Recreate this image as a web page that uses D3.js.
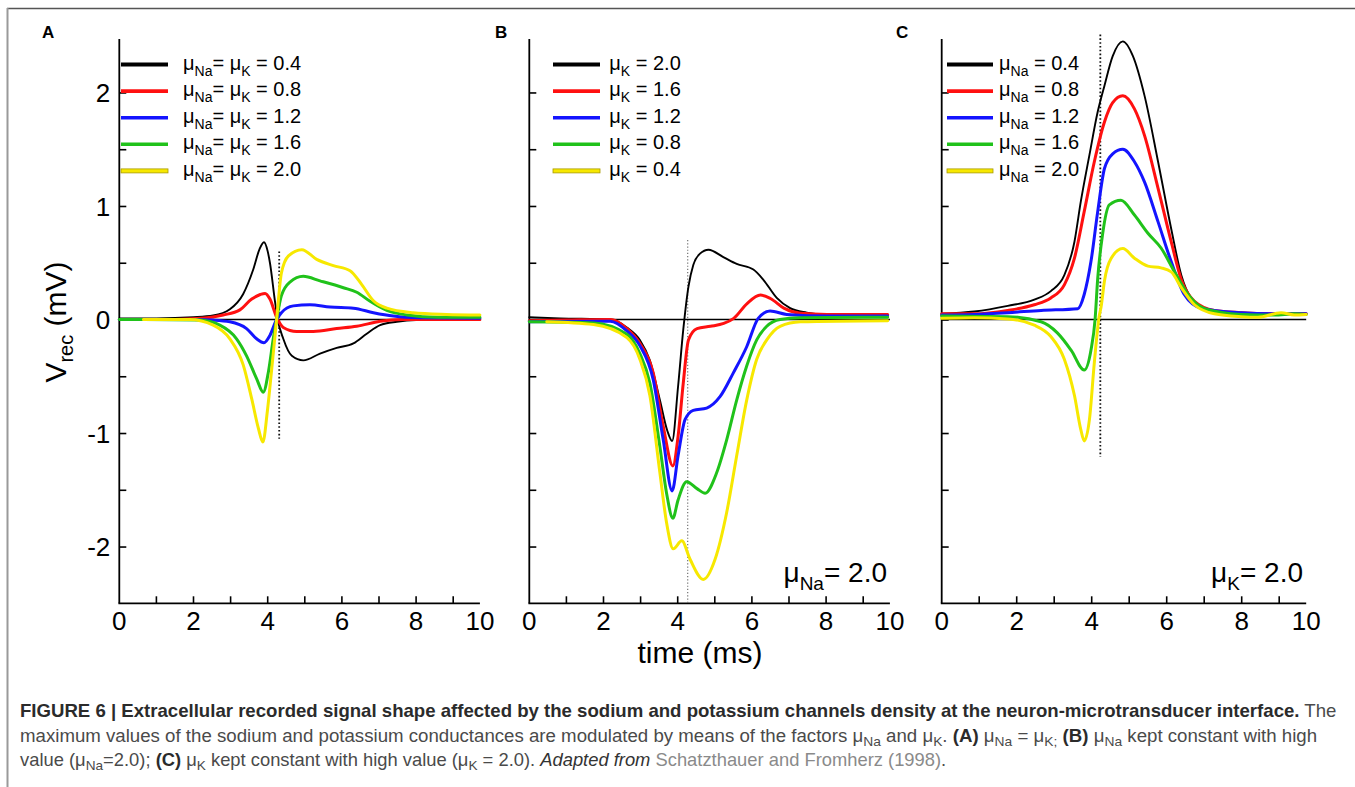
<!DOCTYPE html>
<html><head><meta charset="utf-8">
<script src="https://cdn.jsdelivr.net/npm/d3@7"></script>
<style>
body{margin:0;background:#fff;}
svg{display:block;}
text{font-family:"Liberation Sans",Arial,"DejaVu Sans",sans-serif;}
</style></head><body>
<svg id="chart" width="1355" height="787"></svg>
<script>
// ---------------- DATA ----------------
const xTickLabels = [0, 2, 4, 6, 8, 10];
const yTickLabels = [-2, -1, 0, 1, 2];
const seriesColors = ["#000000", "#ff1010", "#1414ff", "#20c21a", "#f7e800"];

// Panel A: muNa = muK
const legendA = ["0.4", "0.8", "1.2", "1.6", "2.0"];
const A_04 = [[0,0.01],[1,0.01],[2,0.02],[2.53,0.035],[2.98,0.09],[3.34,0.225],[3.61,0.44],[3.78,0.62],[3.9,0.68],[4.0,0.6],[4.06,0.5],[4.2,0.15],[4.27,0],[4.42,-0.17],[4.65,-0.32],[4.96,-0.36],[5.41,-0.30],[5.86,-0.25],[6.31,-0.21],[6.67,-0.125],[7.03,-0.05],[7.48,-0.02],[8,-0.005],[9.72,0]];
const A_08 = [[0,0],[1.5,0],[2.2,0.01],[2.8,0.04],[3.25,0.085],[3.57,0.18],[3.8,0.22],[3.93,0.23],[4.06,0.18],[4.24,0.02],[4.42,-0.07],[4.78,-0.105],[5.23,-0.105],[5.86,-0.08],[6.4,-0.06],[7.03,-0.015],[7.6,0],[9.72,0]];
const A_12 = [[0,0],[2,0],[2.53,-0.005],[2.98,-0.02],[3.43,-0.08],[3.7,-0.17],[3.9,-0.205],[4.06,-0.14],[4.24,0],[4.37,0.06],[4.69,0.12],[5.14,0.13],[5.68,0.11],[6.31,0.10],[6.85,0.06],[7.39,0.03],[8.1,0.015],[9.72,0.01]];
const A_16 = [[0,0],[2.17,-0.005],[2.71,-0.05],[3.16,-0.17],[3.43,-0.32],[3.7,-0.52],[3.88,-0.64],[4.02,-0.46],[4.15,-0.17],[4.24,0],[4.37,0.21],[4.6,0.33],[4.96,0.38],[5.41,0.34],[6.04,0.28],[6.4,0.24],[6.76,0.16],[7.21,0.08],[7.75,0.04],[8.6,0.02],[9.72,0.02]];
const A_20 = [[0.65,0],[1.9,0],[2.53,-0.05],[2.98,-0.17],[3.34,-0.40],[3.57,-0.70],[3.75,-0.96],[3.87,-1.08],[3.99,-0.81],[4.11,-0.43],[4.24,0],[4.37,0.41],[4.56,0.56],[4.92,0.615],[5.32,0.53],[5.77,0.475],[6.22,0.43],[6.53,0.31],[6.85,0.165],[7.21,0.10],[7.92,0.06],[8.82,0.045],[9.72,0.04]];
const A_marker = [4.31, 0.6, -1.05];

// Panel B: muNa = 2.0, muK varies
const legendB = ["2.0", "1.6", "1.2", "0.8", "0.4"];
const B_20 = [[0,0.02],[0.83,0.01],[2.18,0],[2.63,-0.07],[2.98,-0.18],[3.25,-0.36],[3.52,-0.71],[3.72,-0.98],[3.85,-1.07],[4.01,-0.59],[4.15,-0.09],[4.29,0.29],[4.42,0.48],[4.6,0.58],[4.83,0.615],[5.23,0.55],[5.59,0.49],[6.04,0.44],[6.31,0.35],[6.67,0.19],[7.03,0.10],[7.48,0.06],[8.02,0.04],[9.66,0.035]];
const B_16 = [[0,-0.01],[1,-0.005],[2.18,0],[2.63,-0.08],[2.98,-0.21],[3.34,-0.47],[3.61,-0.94],[3.87,-1.29],[4.01,-1.03],[4.15,-0.56],[4.29,-0.18],[4.52,-0.08],[4.88,-0.06],[5.24,-0.035],[5.51,0.01],[5.87,0.14],[6.23,0.215],[6.5,0.185],[6.86,0.10],[7.31,0.055],[8.02,0.045],[9.66,0.045]];
const B_12 = [[0,-0.02],[2.18,-0.015],[2.63,-0.10],[2.98,-0.23],[3.34,-0.53],[3.61,-1.06],[3.85,-1.51],[4.01,-1.20],[4.2,-0.88],[4.42,-0.80],[4.78,-0.78],[5.14,-0.68],[5.5,-0.47],[5.86,-0.24],[6.17,0.01],[6.49,0.075],[6.94,0.045],[8.02,0.03],[9.66,0.03]];
const B_08 = [[0,-0.02],[1.73,-0.03],[2.63,-0.13],[2.98,-0.30],[3.25,-0.56],[3.52,-1.12],[3.7,-1.53],[3.87,-1.75],[4.01,-1.59],[4.24,-1.43],[4.52,-1.49],[4.74,-1.53],[5.05,-1.35],[5.32,-1.06],[5.59,-0.71],[5.86,-0.41],[6.13,-0.18],[6.4,-0.06],[6.76,0],[7.31,0.015],[9.66,0.02]];
const B_04 = [[0.47,-0.02],[1.73,-0.045],[2.63,-0.16],[2.98,-0.35],[3.25,-0.67],[3.52,-1.35],[3.7,-1.79],[3.88,-2.02],[4.11,-1.95],[4.33,-2.11],[4.69,-2.29],[5.01,-2.11],[5.32,-1.70],[5.59,-1.20],[5.86,-0.71],[6.13,-0.35],[6.4,-0.18],[6.76,-0.06],[7.31,-0.02],[9.66,-0.01]];
const B_marker = [4.27, 0.7, -2.5];

// Panel C: muK = 2.0, muNa varies
const legendC = ["0.4", "0.8", "1.2", "1.6", "2.0"];
const C_04 = [[0,0.05],[0.87,0.07],[1.76,0.12],[2.47,0.175],[2.91,0.25],[3.27,0.39],[3.54,0.685],[3.71,1.04],[3.94,1.45],[4.16,1.83],[4.34,2.06],[4.56,2.32],[4.83,2.45],[5.1,2.32],[5.41,1.97],[5.77,1.39],[6.12,0.80],[6.39,0.39],[6.65,0.19],[7.1,0.085],[8,0.06],[9.72,0.05]];
const C_08 = [[0,0.05],[0.87,0.05],[1.76,0.08],[2.47,0.13],[2.91,0.19],[3.27,0.305],[3.54,0.54],[3.8,0.95],[4.07,1.39],[4.34,1.74],[4.56,1.91],[4.83,1.97],[5.14,1.855],[5.41,1.62],[5.77,1.155],[6.12,0.685],[6.39,0.35],[6.74,0.16],[7.27,0.08],[7.98,0.06],[8.87,0.05],[9.72,0.05]];
const C_12 = [[0,0.04],[0.87,0.045],[1.76,0.06],[2.65,0.08],[3.63,0.095],[3.8,0.22],[3.98,0.51],[4.16,0.95],[4.34,1.33],[4.56,1.46],[4.83,1.50],[5.14,1.39],[5.41,1.21],[5.77,0.86],[6.12,0.51],[6.47,0.22],[6.92,0.10],[7.98,0.06],[8.87,0.05],[9.72,0.05]];
const C_16 = [[0,0.03],[1.76,0.025],[2.65,-0.02],[3.09,-0.12],[3.45,-0.27],[3.8,-0.445],[3.98,-0.27],[4.09,0],[4.16,0.36],[4.29,0.75],[4.47,1.01],[4.78,1.05],[5.14,0.92],[5.5,0.76],[5.85,0.63],[6.21,0.42],[6.57,0.22],[7.01,0.095],[7.98,0.045],[8.87,0.04],[9.4,0.05],[9.72,0.045]];
const C_20 = [[0,0.01],[0.87,0.015],[1.76,0.005],[2.47,-0.05],[2.91,-0.15],[3.27,-0.35],[3.54,-0.67],[3.71,-0.97],[3.8,-1.07],[3.94,-0.88],[4.07,-0.38],[4.2,0.03],[4.25,0.11],[4.34,0.34],[4.52,0.54],[4.83,0.625],[5.14,0.54],[5.5,0.47],[5.85,0.455],[6.12,0.42],[6.39,0.28],[6.74,0.13],[7.27,0.05],[7.98,0.025],[8.43,0.02],[9.05,0.06],[9.4,0.04],[9.72,0.045]];
const C_marker = [4.23, 2.51, -1.21];

// ---------------- DRAWING ----------------
const svg = d3.select("#chart");
const X_END = 9.72;
const y = d3.scaleLinear().domain([-2.5, 2.5]).range([603.3, 35.7]);

// frame
svg.append("line").attr("x1", 7).attr("x2", 1355).attr("y1", 8.5).attr("y2", 8.5)
  .attr("stroke", "#555").attr("stroke-width", 1.5);
svg.append("line").attr("x1", 7.5).attr("x2", 7.5).attr("y1", 8).attr("y2", 787)
  .attr("stroke", "#9a9a9a").attr("stroke-width", 2);

function richText(sel, parts, baseSize, subSize, subShift) {
  let inSub = false;
  parts.forEach(p => {
    const ts = sel.append("tspan").text(p.t);
    if (p.sub && !inSub) { ts.attr("dy", subShift).attr("font-size", subSize); inSub = true; }
    else if (p.sub) { ts.attr("font-size", subSize); }
    else if (!p.sub && inSub) { ts.attr("dy", -subShift); inSub = false; }
    if (p.b) ts.attr("font-weight", "bold");
    if (p.i) ts.attr("font-style", "italic");
    if (p.fill) ts.attr("fill", p.fill);
  });
}

const panels = [
  { letter: "A", letterX: 42, range: [119.3, 490.3], series: [A_04, A_08, A_12, A_16, A_20], legend: legendA,
    legendParts: v => [{t:"μ"},{t:"Na",sub:true},{t:"= μ"},{t:"K",sub:true},{t:" = " + v}],
    legLine: [1.7, 48.7], legText: 63.7, marker: A_marker, markerStyle: {c:"#111", w:1.8, d:"1.6,2.2"},
    yLabels: true },
  { letter: "B", letterX: 495, range: [529.3, 900.3], series: [B_20, B_16, B_12, B_08, B_04], legend: legendB,
    legendParts: v => [{t:"μ"},{t:"K",sub:true},{t:" = " + v}],
    legLine: [23.7, 70.7], legText: 80, marker: B_marker, markerStyle: {c:"#666", w:1.1, d:"1.2,2"},
    note: [{t:"μ"},{t:"Na",sub:true},{t:"= 2.0"}], noteX: 887 },
  { letter: "C", letterX: 896, range: [941.7, 1316.7], series: [C_04, C_08, C_12, C_16, C_20], legend: legendC,
    legendParts: v => [{t:"μ"},{t:"Na",sub:true},{t:" = " + v}],
    legLine: [5.3, 51.3], legText: 57.3, marker: C_marker, markerStyle: {c:"#111", w:1.8, d:"1.6,2.2"},
    note: [{t:"μ"},{t:"K",sub:true},{t:"= 2.0"}], noteX: 1303 }
];

panels.forEach(p => {
  const x = d3.scaleLinear().domain([0, 10]).range(p.range);
  const g = svg.append("g");
  const x0 = x(0);

  // panel letter
  svg.append("text").attr("x", p.letterX).attr("y", 38).attr("font-size", 17).attr("font-weight", "bold").text(p.letter);

  // zero line
  g.append("line").attr("x1", x(0)).attr("x2", x(X_END)).attr("y1", y(0)).attr("y2", y(0))
    .attr("stroke", "#000").attr("stroke-width", 1.3);

  // y axis
  const yAxis = d3.axisLeft(y).tickValues(d3.range(-2, 2.01, 0.5)).tickSize(-7).tickSizeOuter(0).tickPadding(9)
    .tickFormat(d => (p.yLabels && yTickLabels.includes(d)) ? String(d) : "");
  const ya = g.append("g").attr("transform", `translate(${x0},0)`).call(yAxis);
  ya.select(".domain").attr("stroke-width", 1.8).attr("d", `M0,${y(-2.5)}V${y(2.47)}`);
  ya.selectAll(".tick line").attr("stroke-width", 1.6);
  ya.selectAll(".tick text").attr("font-size", 26).attr("font-family", "Liberation Sans, Arial, sans-serif").attr("fill", "#000").attr("dy", "0.36em");

  // x axis (manual, ends at X_END)
  const yb = y(-2.5);
  g.append("line").attr("x1", x(0) - 0.9).attr("x2", x(X_END)).attr("y1", yb).attr("y2", yb)
    .attr("stroke", "#000").attr("stroke-width", 1.8);
  g.selectAll(".xt").data(d3.range(1, 10)).join("line")
    .attr("x1", d => x(d)).attr("x2", d => x(d)).attr("y1", yb).attr("y2", yb - 7)
    .attr("stroke", "#000").attr("stroke-width", 1.6);
  g.selectAll(".xl").data(xTickLabels).join("text")
    .attr("x", d => x(Math.min(d, X_END))).attr("y", 630).attr("text-anchor", "middle")
    .attr("font-size", 26).text(d => d);

  // marker dotted line
  const m = p.marker;
  g.append("line").attr("x1", x(m[0])).attr("x2", x(m[0])).attr("y1", y(m[1])).attr("y2", y(m[2]))
    .attr("stroke", p.markerStyle.c).attr("stroke-width", p.markerStyle.w).attr("stroke-dasharray", p.markerStyle.d);

  // curves
  const line = d3.line().x(d => x(d[0])).y(d => y(d[1])).curve(d3.curveMonotoneX);
  p.series.forEach((s, i) => {
    g.append("path").attr("d", line(s)).attr("fill", "none")
      .attr("stroke", seriesColors[i]).attr("stroke-width", i === 0 ? 1.9 : 3)
      .attr("stroke-linejoin", "round").attr("stroke-linecap", "round");
  });

  // legend
  p.legend.forEach((v, i) => {
    const by = 69.5 + 26.6 * i;
    const ly = by - 5;
    if (i === 4) {
      g.append("rect").attr("x", x0 + p.legLine[0]).attr("y", ly - 2).attr("width", p.legLine[1] - p.legLine[0]).attr("height", 4)
        .attr("fill", seriesColors[i]).attr("stroke", "#a89a00").attr("stroke-width", 0.8);
    } else {
      g.append("line").attr("x1", x0 + p.legLine[0]).attr("x2", x0 + p.legLine[1]).attr("y1", ly).attr("y2", ly)
        .attr("stroke", seriesColors[i]).attr("stroke-width", i === 0 ? 4 : 3.6);
    }
    const t = g.append("text").attr("x", x0 + p.legText).attr("y", by).attr("font-size", 20);
    richText(t, p.legendParts(v), 20, 14, 6);
  });

  if (p.note) {
    const t = g.append("text").attr("x", p.noteX).attr("y", 581.5).attr("font-size", 28).attr("text-anchor", "end");
    richText(t, p.note, 28, 19, 8);
  }
});

// axis titles
const yl = svg.append("text").attr("transform", "translate(66,322) rotate(-90)").attr("text-anchor", "middle").attr("font-size", 30);
richText(yl, [{t:"V"},{t:"rec",sub:true},{t:" (mV)"}], 30, 20, 7);
svg.append("text").attr("x", 700).attr("y", 663).attr("text-anchor", "middle").attr("font-size", 30).text("time (ms)");

// caption
const captionLines = [
  [{t:"FIGURE 6 | Extracellular recorded signal shape affected by the sodium and potassium channels density at the neuron-microtransducer interface.", b:true, fill:"#2b2b2b"}, {t:" The"}],
  [{t:"maximum values of the sodium and potassium conductances are modulated by means of the factors "},{t:"μ"},{t:"Na",sub:true},{t:" and "},{t:"μ"},{t:"K",sub:true},{t:". "},{t:"(A)",b:true,fill:"#2b2b2b"},{t:" μ"},{t:"Na",sub:true},{t:" = μ"},{t:"K;",sub:true},{t:" "},{t:"(B)",b:true,fill:"#2b2b2b"},{t:" μ"},{t:"Na",sub:true},{t:" kept constant with high"}],
  [{t:"value (μ"},{t:"Na",sub:true},{t:"=2.0); "},{t:"(C)",b:true,fill:"#2b2b2b"},{t:" μ"},{t:"K",sub:true},{t:" kept constant with high value (μ"},{t:"K",sub:true},{t:" = 2.0). "},{t:"Adapted from",i:true,fill:"#333"},{t:" "},{t:"Schatzthauer and Fromherz (1998)",fill:"#8a8a8a"},{t:"."}]
];
const captionWidths = [1318, 1298, 927];
const captionY = [717, 742, 766];
captionLines.forEach((parts, i) => {
  const cg = svg.append("g");
  const t = cg.append("text").attr("x", 0).attr("y", 0).attr("font-size", 17.5).attr("fill", "#4a4a4a")
    .style("font-family", "'Liberation Sans Narrow','Liberation Sans',Arial,sans-serif");
  richText(t, parts, 17.5, 13, 3.5);
  const w = t.node().getComputedTextLength();
  cg.attr("transform", `translate(20,${captionY[i]}) scale(${captionWidths[i] / w},1)`);
});
</script>
</body></html>
